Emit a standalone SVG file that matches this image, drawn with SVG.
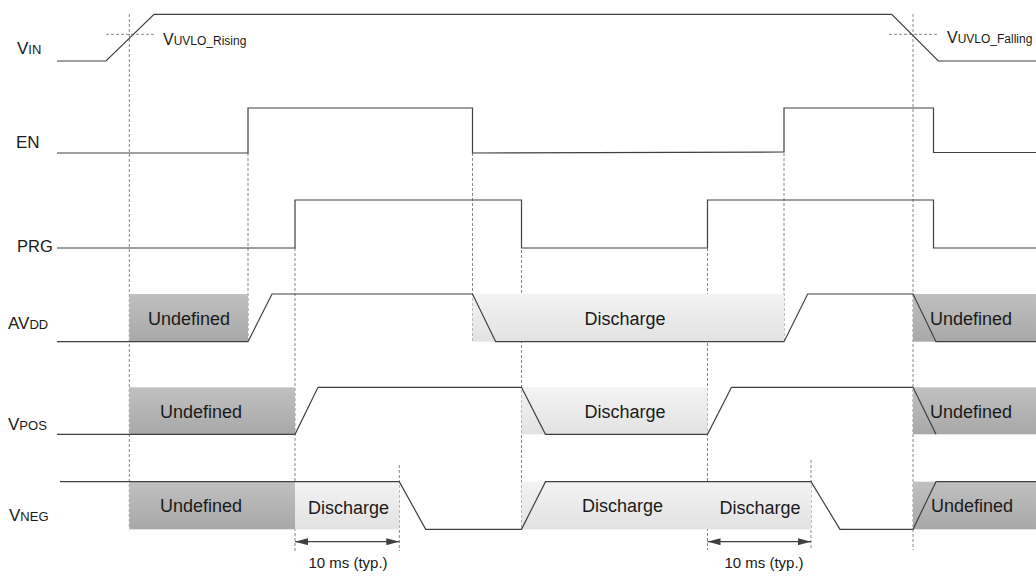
<svg xmlns="http://www.w3.org/2000/svg" width="1036" height="576" viewBox="0 0 1036 576">
<style>
.sig{fill:none;stroke:#404040;stroke-width:1.2}
.dash{fill:none;stroke:#888;stroke-width:1;stroke-dasharray:3 2}
.und{fill:url(#gUnd)}
.dis{fill:url(#gDis)}
text{font-family:"Liberation Sans",Arial,sans-serif;fill:#1a1a1a}
.big{font-size:17px}
.sub{font-size:13px}
.sm{font-size:12px}
.box{font-size:18px}
.dim{font-size:15px;text-anchor:middle}
.mid{text-anchor:middle}
.arr{fill:none;stroke:#404040;stroke-width:1.2}
</style>
<defs>
<linearGradient id="gUnd" x1="0" y1="0" x2="0" y2="1">
<stop offset="0" stop-color="#c0c0c0"/>
<stop offset="1" stop-color="#a8a8a8"/>
</linearGradient>
<linearGradient id="gDis" x1="0" y1="0" x2="0" y2="1">
<stop offset="0" stop-color="#f3f3f3"/>
<stop offset="1" stop-color="#e2e2e2"/>
</linearGradient>
<marker id="ah" viewBox="0 0 13 7" refX="13" refY="3.5" markerWidth="13" markerHeight="7" markerUnits="userSpaceOnUse" orient="auto-start-reverse">
<path d="M0,0 L13,3.5 L0,7 z" fill="#404040"/>
</marker>
</defs>

<g id="connectors">
<line class="dash" x1="129.3" y1="14" x2="129.3" y2="529.3"/>
<line class="dash" x1="913" y1="14" x2="913" y2="550"/>
<line class="dash" x1="248" y1="153" x2="248" y2="341.7"/>
<line class="dash" x1="295" y1="248" x2="295" y2="551"/>
<line class="dash" x1="472.5" y1="153" x2="472.5" y2="341.7"/>
<line class="dash" x1="521.5" y1="200" x2="521.5" y2="529.3"/>
<line class="dash" x1="399.3" y1="465" x2="399.3" y2="551"/>
<line class="dash" x1="707.5" y1="248" x2="707.5" y2="550"/>
<line class="dash" x1="784" y1="153" x2="784" y2="341.7"/>
<line class="dash" x1="811" y1="460" x2="811" y2="550"/>
<line class="dash" x1="106" y1="34.3" x2="155" y2="34.3"/>
<line class="dash" x1="889" y1="34.3" x2="938" y2="34.3"/>
<line class="arr" x1="295" y1="541.7" x2="399.3" y2="541.7" marker-start="url(#ah)" marker-end="url(#ah)"/>
<line class="arr" x1="707.5" y1="541.7" x2="811" y2="541.7" marker-start="url(#ah)" marker-end="url(#ah)"/>
<text class="dim" x="348" y="568">10 ms (typ.)</text>
<text class="dim" x="764" y="568">10 ms (typ.)</text>
</g>

<g id="vin">
<text x="17" y="53.5"><tspan class="big">V</tspan><tspan class="sub">IN</tspan></text>
<path class="sig" d="M57,61 H106 L154,14.3 H891.7 L938.3,61 H1036"/>
<text x="163" y="44.5"><tspan font-size="16">V</tspan><tspan class="sm">UVLO_Rising</tspan></text>
<text x="947" y="42.5"><tspan font-size="16">V</tspan><tspan class="sm">UVLO_Falling</tspan></text>
</g>

<g id="en">
<text class="big" x="16" y="147.5">EN</text>
<path class="sig" d="M57,153 H248 V108 H472.5 V153 L784,152 V108 H933.5 V152.5 H1036"/>
</g>

<g id="prg">
<text x="17" y="251.5" font-size="16.5">PRG</text>
<path class="sig" d="M57,248 H295 V200 H521.5 V248 H707.5 V200 H933.5 V248 H1036"/>
</g>

<g id="avdd">
<rect class="und" x="129.3" y="294" width="118.7" height="47.7"/>
<rect class="dis" x="472.5" y="294" width="311.5" height="47.7"/>
<rect class="und" x="913" y="294" width="123" height="47.7"/>
<path class="sig" d="M57,341.7 H248 L272,294 H472.5 L495.7,341.7 H784 L807.7,294 H913 L936,341.7 H1036"/>
<text class="box mid" x="189" y="324.5">Undefined</text>
<text class="box mid" x="625" y="324.5">Discharge</text>
<text class="box" x="930" y="324.5">Undefined</text>
<text x="8" y="329"><tspan class="big">AV</tspan><tspan class="sub">DD</tspan></text>
</g>

<g id="vpos">
<rect class="und" x="129.3" y="387.3" width="165.7" height="47"/>
<rect class="dis" x="521.5" y="387.3" width="186" height="47"/>
<rect class="und" x="913" y="387.3" width="123" height="47"/>
<path class="sig" d="M57,434.3 H295 L318,387.3 H521.5 L545.5,434.3 H707.5 L731.5,387.3 H913 L936,434.3"/>
<text class="box mid" x="201" y="417.5">Undefined</text>
<text class="box mid" x="625" y="417.5">Discharge</text>
<text class="box" x="930" y="417.5">Undefined</text>
<text x="8" y="430"><tspan class="big">V</tspan><tspan class="sub">POS</tspan></text>
</g>

<g id="vneg">
<rect class="und" x="129.3" y="481.7" width="165.7" height="47.6"/>
<rect class="dis" x="295" y="481.7" width="104.3" height="47.6"/>
<rect class="dis" x="521.5" y="481.7" width="289.5" height="47.6"/>
<rect class="und" x="913" y="481.7" width="123" height="47.6"/>
<path class="sig" d="M60,481.7 H399.3 L425.7,529.3 H521.5 L545.5,481.7 H811 L840,529.3 H913 L936,481.7 H1036"/>
<text class="box mid" x="201" y="512">Undefined</text>
<text class="box mid" x="348.5" y="513.5">Discharge</text>
<text class="box mid" x="622.5" y="512">Discharge</text>
<text class="box mid" x="760" y="513.5">Discharge</text>
<text class="box" x="931" y="512">Undefined</text>
<text x="9" y="521"><tspan class="big">V</tspan><tspan class="sub">NEG</tspan></text>
</g>
</svg>
